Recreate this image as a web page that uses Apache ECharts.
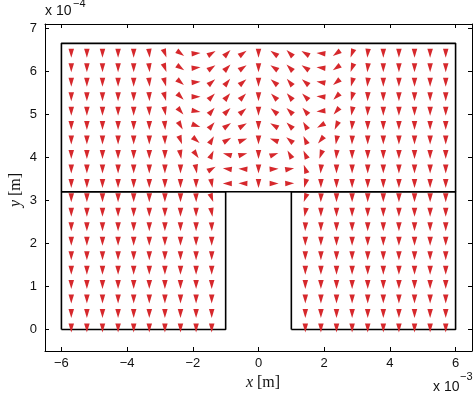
<!DOCTYPE html>
<html>
<head>
<meta charset="utf-8">
<script src="https://cdn.jsdelivr.net/npm/echarts@6/dist/echarts.min.js"></script>
<style>html,body{margin:0;padding:0;background:#fff}#c{width:474px;height:395px}</style>
</head>
<body>
<div id="c"></div>
<script>
// Axis tick values (x in units of 1e-3 m, y in units of 1e-4 m)
const xTicks = [-6, -4, -2, 0, 2, 4, 6];
const yTicks = [0, 1, 2, 3, 4, 5, 6, 7];

// Arrow grid positions
const xGrid = [-5.7, -5.225, -4.75, -4.275, -3.8, -3.325, -2.85, -2.375, -1.9, -1.425, -0.95, -0.475, 0,
               0.475, 0.95, 1.425, 1.9, 2.375, 2.85, 3.325, 3.8, 4.275, 4.75, 5.225, 5.7];
const yGrid = [0.035, 0.371, 0.707, 1.043, 1.379, 1.715, 2.051, 2.387, 2.723, 3.059,
               3.395, 3.731, 4.067, 4.403, 4.739, 5.075, 5.411, 5.747, 6.083, 6.419];

// Arrow directions (degrees, 0 = +x, 90 = +y). Upper region rows, top (y=6.419) to bottom (y=3.395)
const upperAngles = [
  [-90,-90,-90,-90,-90,-85,-70,-35,5,30,45,35,-90,145,135,150,175,-145,-110,-95,-90,-90,-90,-90,-90],
  [-90,-90,-90,-90,-90,-85,-70,-35,5,35,45,35,-90,145,135,145,175,-145,-110,-95,-90,-90,-90,-90,-90],
  [-90,-90,-90,-90,-90,-85,-75,-40,5,40,50,40,-90,140,130,140,170,-140,-105,-95,-90,-90,-90,-90,-90],
  [-90,-90,-90,-90,-90,-87,-75,-45,0,45,50,45,-90,135,130,135,175,-135,-105,-92,-90,-90,-90,-90,-90],
  [-90,-90,-90,-90,-90,-88,-80,-50,-10,50,45,40,-90,140,135,130,-175,-130,-100,-92,-90,-90,-90,-90,-90],
  [-90,-90,-90,-90,-90,-90,-85,-60,-20,50,35,30,-90,150,135,120,-150,-115,-95,-90,-90,-90,-90,-90,-90],
  [-90,-90,-90,-90,-90,-90,-88,-70,-40,60,30,20,-90,160,140,115,-130,-100,-92,-90,-90,-90,-90,-90,-90],
  [-90,-90,-90,-90,-90,-90,-90,-80,-55,65,165,15,-90,20,120,115,-110,-95,-90,-90,-90,-90,-90,-90,-90],
  [-90,-90,-90,-90,-90,-90,-90,-90,-80,30,172,176,-90,4,10,110,-95,-90,-90,-90,-90,-90,-90,-90,-90],
  [-90,-90,-90,-90,-90,-90,-90,-90,-90,-80,180,178,-90,0,2,-105,-90,-90,-90,-90,-90,-90,-90,-90,-90]
];
// Lower left leg (columns 0..9), rows top (y=3.059) to bottom (y=0.035)
const lowerLeftAngles = [
  [-90,-90,-90,-90,-90,-90,-90,-90,-88,-70],
  [-90,-90,-90,-90,-90,-90,-90,-90,-90,-80],
  [-90,-90,-90,-90,-90,-90,-90,-90,-90,-88],
  [-90,-90,-90,-90,-90,-90,-90,-90,-90,-90],
  [-90,-90,-90,-90,-90,-90,-90,-90,-90,-90],
  [-90,-90,-90,-90,-90,-90,-90,-90,-90,-90],
  [-90,-90,-90,-90,-90,-90,-90,-90,-90,-90],
  [-90,-90,-90,-90,-90,-90,-90,-90,-90,-90],
  [-90,-90,-90,-90,-90,-90,-90,-90,-90,-90],
  [-90,-90,-90,-90,-90,-90,-90,-90,-90,-90]
];
// Lower right leg (columns 15..24)
const lowerRightAngles = [
  [-110,-92,-90,-90,-90,-90,-90,-90,-90,-90],
  [-100,-90,-90,-90,-90,-90,-90,-90,-90,-90],
  [-92,-90,-90,-90,-90,-90,-90,-90,-90,-90],
  [-90,-90,-90,-90,-90,-90,-90,-90,-90,-90],
  [-90,-90,-90,-90,-90,-90,-90,-90,-90,-90],
  [-90,-90,-90,-90,-90,-90,-90,-90,-90,-90],
  [-90,-90,-90,-90,-90,-90,-90,-90,-90,-90],
  [-90,-90,-90,-90,-90,-90,-90,-90,-90,-90],
  [-90,-90,-90,-90,-90,-90,-90,-90,-90,-90],
  [-90,-90,-90,-90,-90,-90,-90,-90,-90,-90]
];

// Domain outlines
const outlineUpper = [[-6, 3.2], [-6, 6.65], [6, 6.65], [6, 3.2], [-6, 3.2]];
const outlineLeft = [[-6, 0], [-6, 3.2], [-1, 3.2], [-1, 0], [-6, 0]];
const outlineRight = [[1, 0], [1, 3.2], [6, 3.2], [6, 0], [1, 0]];

const arrows = [];
function addRow(rowAngles, rowIdx, colStart) {
  rowAngles.forEach(function (a, i) {
    if (a === null) return;
    arrows.push({ value: [xGrid[colStart + i], yGrid[rowIdx]], symbolRotate: a - 90 });
  });
}
upperAngles.forEach(function (r, i) { addRow(r, 19 - i, 0); });
lowerLeftAngles.forEach(function (r, i) { addRow(r, 9 - i, 0); });
lowerRightAngles.forEach(function (r, i) { addRow(r, 9 - i, 15); });

const fmt = function (v) { return v < 0 ? '\u2212' + Math.abs(v) : String(v); };
const lblFont = { fontFamily: 'Liberation Sans', fontSize: 13, color: '#111' };
const axLine = { show: true, onZero: false, lineStyle: { color: '#000', width: 1 } };

function outlineSeries(d) {
  return { type: 'line', data: d, symbol: 'none', silent: true, animation: false,
           lineStyle: { color: '#000', width: 1.6 }, z: 3 };
}

const chart = echarts.init(document.getElementById('c'), null, { renderer: 'canvas' });
chart.setOption({
  animation: false,
  backgroundColor: '#fff',
  grid: { left: 45, right: 2, top: 24, bottom: 44, containLabel: false },
  xAxis: [
    { type: 'value', position: 'bottom', min: -6.5, max: 6.5, axisLine: axLine,
      axisTick: { inside: true, length: 4, customValues: xTicks, lineStyle: { color: '#000' } },
      axisLabel: Object.assign({ customValues: xTicks, formatter: fmt, margin: 6 }, lblFont),
      splitLine: { show: false } },
    { type: 'value', position: 'top', min: -6.5, max: 6.5, axisLine: axLine,
      axisTick: { inside: true, length: 4, customValues: xTicks, lineStyle: { color: '#000' } },
      axisLabel: { show: false }, splitLine: { show: false } }
  ],
  yAxis: [
    { type: 'value', position: 'left', min: -0.5, max: 7.1, axisLine: axLine,
      axisTick: { inside: true, length: 4, customValues: yTicks, lineStyle: { color: '#000' } },
      axisLabel: Object.assign({ customValues: yTicks, formatter: fmt, margin: 8 }, lblFont),
      splitLine: { show: false } },
    { type: 'value', position: 'right', min: -0.5, max: 7.1, axisLine: axLine,
      axisTick: { inside: true, length: 4, customValues: yTicks, lineStyle: { color: '#000' } },
      axisLabel: { show: false }, splitLine: { show: false } }
  ],
  series: [
    outlineSeries(outlineUpper),
    outlineSeries(outlineLeft),
    outlineSeries(outlineRight),
    { type: 'scatter', data: arrows, symbol: 'path://M5,0L10,16L0,16Z', symbolSize: [5.5, 9],
      itemStyle: { color: '#d6282c', opacity: 1 }, z: 4, silent: true }
  ],
  graphic: [
    { type: 'text', left: 45, top: 4, style: { text: 'x 10', fontFamily: 'Liberation Sans', fontSize: 14, fill: '#111' } },
    { type: 'text', left: 73, top: -2, style: { text: '\u22124', fontFamily: 'Liberation Sans', fontSize: 11, fill: '#111' } },
    { type: 'text', left: 433, top: 380, style: { text: 'x 10', fontFamily: 'Liberation Sans', fontSize: 14, fill: '#111' } },
    { type: 'text', left: 460, top: 371, style: { text: '\u22123', fontFamily: 'Liberation Sans', fontSize: 11, fill: '#111' } },
    { type: 'text', x: 263, y: 383, style: { text: '{i|x} [m]', align: 'center', verticalAlign: 'middle',
        fontFamily: 'Liberation Serif', fontSize: 16, fill: '#111',
        rich: { i: { fontStyle: 'italic', fontFamily: 'Liberation Serif', fontSize: 16, fill: '#111' } } } },
    { type: 'text', x: 16, y: 190, rotation: Math.PI / 2, style: { text: '{i|y} [m]', align: 'center', verticalAlign: 'middle',
        fontFamily: 'Liberation Serif', fontSize: 16, fill: '#111',
        rich: { i: { fontStyle: 'italic', fontFamily: 'Liberation Serif', fontSize: 16, fill: '#111' } } } }
  ]
});
</script>
</body>
</html>
